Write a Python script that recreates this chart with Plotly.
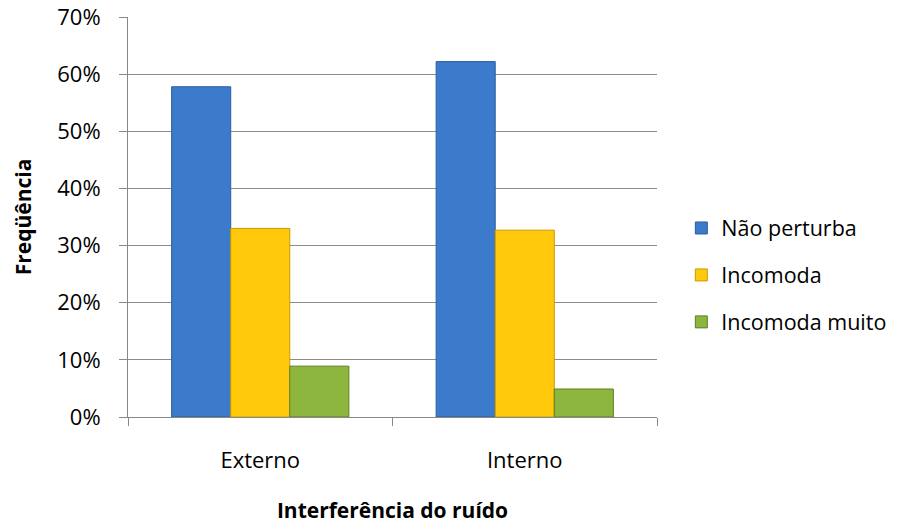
import plotly.graph_objects as go

categories = ["Externo", "Interno"]
nao_perturba = [0.578, 0.622]
incomoda = [0.330, 0.327]
incomoda_muito = [0.089, 0.049]

series = [
    ("Não perturba", nao_perturba, "#3C7BCB", "#2B5D9E"),
    ("Incomoda", incomoda, "#FFC80A", "#C99A00"),
    ("Incomoda muito", incomoda_muito, "#8DB63E", "#5E7F24"),
]

fig = go.Figure()
for i, (name, vals, color, edge) in enumerate(series):
    fig.add_trace(go.Bar(
        x=categories,
        y=vals,
        name=name,
        legendgroup=str(i),
        marker=dict(color=color, line=dict(color=edge, width=1)),
    ))

fig.update_layout(
    width=901,
    height=524,
    font=dict(family="Open Sans", size=22, color="#000000"),
    plot_bgcolor="white",
    paper_bgcolor="white",
    barmode="group",
    bargap=0.33,
    bargroupgap=0,
    margin=dict(l=128, r=244, t=17, b=107, autoexpand=False),
    xaxis=dict(
        title=dict(text="<b>Interferência do ruído</b>", standoff=31, font=dict(size=21)),
        automargin=False,
        showline=True,
        linecolor="#888888",
        linewidth=1,
        ticks="outside",
        ticklen=8,
        tickcolor="#888888",
        tickson="boundaries",
        ticklabelstandoff=24,
        tickfont=dict(size=22),
    ),
    yaxis=dict(
        title=dict(text="<b>Freqüência</b>", standoff=19, font=dict(size=21)),
        automargin=False,
        range=[0, 0.7001],
        tickvals=[0, 0.1, 0.2, 0.3, 0.4, 0.5, 0.6, 0.7],
        tickformat=".0%",
        showgrid=True,
        gridcolor="#8C8C8C",
        gridwidth=1,
        showline=True,
        linecolor="#888888",
        ticks="outside",
        ticklen=8,
        tickcolor="#888888",
        ticklabelstandoff=14,
        ticklabeloverflow="allow",
        tickfont=dict(size=22),
        zeroline=False,
    ),
    legend=dict(
        x=1.046,
        y=0.355,
        xanchor="left",
        yanchor="middle",
        font=dict(size=21.5),
        traceorder="grouped",
        tracegroupgap=16,
    ),
    showlegend=True,
)

# drop the default 8px page margin so the figure fills the window exactly
fig.write_html(
    "out.html",
    config={"displayModeBar": False},
    post_script="document.body.style.margin='0px';",
)
